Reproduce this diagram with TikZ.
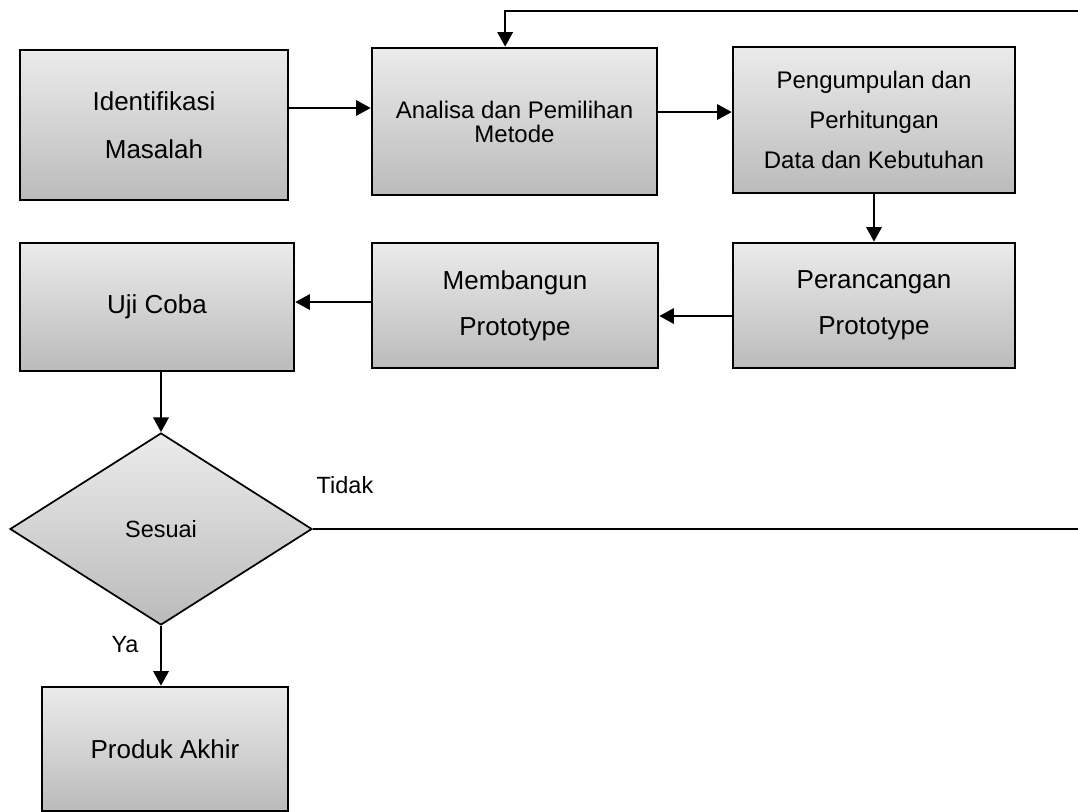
\documentclass[tikz,border=0pt]{standalone}
\usepackage{fontspec}
\setmainfont{Liberation Sans}
\usetikzlibrary{positioning, shapes.geometric, arrows.meta}
\definecolor{boxtop}{HTML}{EBEBEB}
\definecolor{boxbot}{HTML}{BBBBBB}

\begin{document}
\begin{tikzpicture}[x=0.75pt, y=-0.75pt,
    box/.style={draw=black, line width=1.9pt, top color=boxtop, bottom color=boxbot,
          align=center, inner sep=0pt},
    decision/.style={diamond, draw=black, line width=1.3pt, top color=boxtop,
          bottom color=boxbot, inner sep=0pt, aspect=1.57,
          minimum width=226.5pt, minimum height=144pt},
    arr/.style={-{Triangle[length=11pt,width=11.5pt]}, line width=1.8pt},
    lbl/.style={font=\fontsize{17.6}{20}\selectfont}]
    \useasboundingbox (0,0) rectangle (1078,812);
    \node[box, minimum width=201pt, minimum height=112.5pt,
          font=\fontsize{19.5}{36}\selectfont] (ident) at (154,125) {Identifikasi\\Masalah};
    \node[box, minimum width=213.75pt, minimum height=110.25pt,
          font=\fontsize{18}{18}\selectfont] (analisa) at (514.5,121.5) {Analisa dan Pemilihan\\Metode};
    \node[box, minimum width=211.5pt, minimum height=109.5pt,
          font=\fontsize{18}{30}\selectfont] (kumpul) at (874,120)
          {Pengumpulan dan\\Perhitungan\\Data dan Kebutuhan};
    \node[box, minimum width=211.5pt, minimum height=93.75pt,
          font=\fontsize{19.5}{34.5}\selectfont] (rancang) at (874,305.5) {Perancangan\\Prototype};
    \node[box, minimum width=214.5pt, minimum height=93.75pt,
          font=\fontsize{19.5}{34.5}\selectfont] (bangun) at (515,305.5) {Membangun\\Prototype};
    \node[box, minimum width=205.5pt, minimum height=96pt,
          font=\fontsize{19.5}{24}\selectfont] (uji) at (157,307) {Uji Coba};
    \node[decision, lbl] (sesuai) at (161,529) {Sesuai};
    \node[box, minimum width=184.5pt, minimum height=93pt,
          font=\fontsize{19.5}{24}\selectfont] (produk) at (165,749) {Produk Akhir};
    \node[lbl] (tidak) at (345,485) {Tidak};
    \node[lbl] (ya) at (125,645) {Ya};
    \coordinate (loopR) at (1078,11);
    \coordinate (tidakR) at (1078,527);
    \draw[arr] ([yshift=12.75pt]ident.east) -- ([yshift=12.75pt]ident.east -| analisa.west);
    \draw[arr] ([yshift=7.1pt]analisa.east) -- ([yshift=7.1pt]analisa.east -| kumpul.west);
    \draw[arr] (kumpul) -- (rancang);
    \draw[arr] ([yshift=-7.9pt]rancang.west) -- ([yshift=-7.9pt]rancang.west -| bangun.east);
    \draw[arr] ([yshift=2.6pt]bangun.west) -- ([yshift=2.6pt]bangun.west -| uji.east);
    \draw[arr] (uji.south -| sesuai.north) -- (sesuai.north);
    \draw[arr] (sesuai.south) -- (sesuai.south |- produk.north);
    \draw[line width=1.8pt] (sesuai.east) -- (sesuai.east -| tidakR);
    \draw[arr] (loopR) -| ([xshift=-7pt]analisa.north);
  \end{tikzpicture}
\end{document}
